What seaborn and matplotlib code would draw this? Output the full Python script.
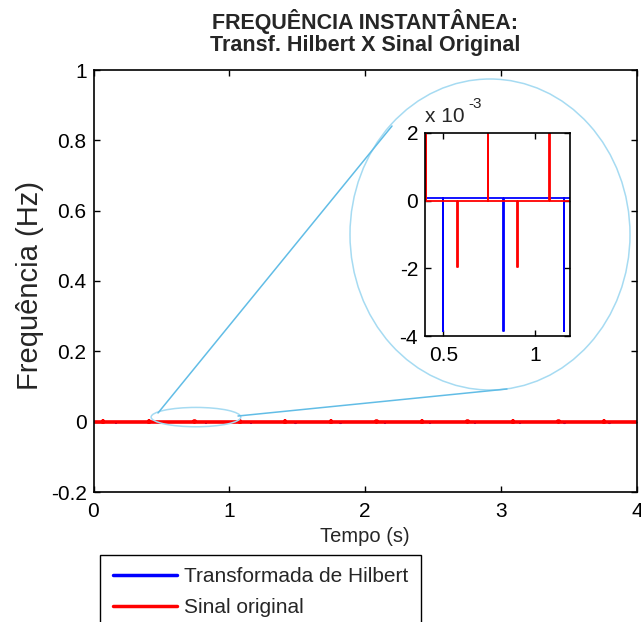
import numpy as np
import pandas as pd
import matplotlib
matplotlib.use("Agg")
import matplotlib.pyplot as plt
import seaborn as sns
from matplotlib.patches import Ellipse
from matplotlib.lines import Line2D
from matplotlib.ticker import FuncFormatter, FixedLocator

# ---------------- data ----------------
t_start, t_end = 0.0, 4.0

blue_label = "Transformada de Hilbert"
blue_base = 0.00007
blue_spike_t = [0.166, 0.496, 0.826, 1.156, 1.486, 1.816, 2.146, 2.476,
                2.806, 3.136, 3.466, 3.796]
blue_spike_v = [-0.00385, -0.00385, -0.00385, -0.00385, -0.00385, -0.00385,
                -0.00385, -0.00385, -0.00385, -0.00385, -0.00385, -0.00385]

red_label = "Sinal original"
red_base = 0.0
red_up_t = [0.07, 0.405, 0.742, 1.076, 1.41, 1.745, 2.08, 2.415, 2.75,
            3.085, 3.42, 3.755]
red_up_v = [0.0025, 0.0025, 0.0025, 0.0025, 0.0025, 0.0025, 0.0025, 0.0025,
            0.0025, 0.0025, 0.0025, 0.0025]
red_dn_t = [0.576, 0.903, 1.24, 1.57, 1.91, 2.245, 2.58, 2.915, 3.25,
            3.585, 3.91]
red_dn_v = [-0.00195, -0.00195, -0.00195, -0.00195, -0.00195, -0.00195,
            -0.00195, -0.00195, -0.00195, -0.00195, -0.00195]

main_xticks = [0, 1, 2, 3, 4]
main_yticks = [-0.2, 0, 0.2, 0.4, 0.6, 0.8, 1]
inset_xticks = [0.5, 1]
inset_yticks = [-0.004, -0.002, 0, 0.002]

title_lines = ["FREQUÊNCIA INSTANTÂNEA:", "Transf. Hilbert X Sinal Original"]
xlabel = "Tempo (s)"
ylabel = "Frequência (Hz)"


def spike_frame(base, ts, vs, w=0.003):
    xs, ys = [t_start], [base]
    for t, v in sorted(zip(ts, vs)):
        xs += [t, t, t + w, t + w]
        ys += [base, v, v, base]
    xs.append(t_end)
    ys.append(base)
    return pd.DataFrame({"t": xs, "f": ys})


blue_df = spike_frame(blue_base, blue_spike_t, blue_spike_v)
red_df = spike_frame(red_base, red_up_t + red_dn_t, red_up_v + red_dn_v)

# ---------------- style ----------------
sns.set_style("ticks")
plt.rcParams["font.family"] = ["Liberation Sans", "DejaVu Sans"]
plt.rcParams["axes.unicode_minus"] = False

W, H = 641, 622
fig = plt.figure(figsize=(W / 100, H / 100), dpi=100)


def fx(px):
    return px / W


def fy(py):
    return 1 - py / H


def style_axes(a, fs):
    for s in a.spines.values():
        s.set_color("black")
        s.set_linewidth(1.2)
    a.tick_params(direction="in", length=4, width=1, top=True, right=True,
                  labelsize=fs, colors="black")
    a.set_facecolor("white")


fmt = FuncFormatter(lambda v, p: f"{v:g}")

# ---------------- main axes ----------------
ax = fig.add_axes([fx(93.5), fy(492), fx(637) - fx(93.5), fy(70) - fy(492)])
sns.lineplot(data=blue_df, x="t", y="f", ax=ax, color="#0000ff", lw=1.5,
             estimator=None, sort=False, label=blue_label)
sns.lineplot(data=red_df, x="t", y="f", ax=ax, color="#ff0000", lw=2.6,
             estimator=None, sort=False, label=red_label)
handles, labels = ax.get_legend_handles_labels()
if ax.get_legend() is not None:
    ax.get_legend().remove()
ax.set_xlim(0, 4)
ax.set_ylim(-0.2, 1)
ax.xaxis.set_major_locator(FixedLocator(main_xticks))
ax.yaxis.set_major_locator(FixedLocator(main_yticks))
ax.xaxis.set_major_formatter(fmt)
ax.yaxis.set_major_formatter(fmt)
ax.set_xlabel("")
ax.set_ylabel("")
style_axes(ax, 15)
ax.tick_params(axis="x", pad=7.5)
ax.tick_params(axis="y", pad=5)

# small zoom ellipse in data coords
ax.add_patch(Ellipse((0.754, 0.013), 0.66, 0.055, fill=False,
                     edgecolor="#a6dbf2", lw=1.1, zorder=5))

# titles and labels
fig.text(fx(365), fy(21), title_lines[0], ha="center", va="center",
         fontsize=15.5, fontweight="bold")
fig.text(fx(365), fy(46), title_lines[1], ha="center", va="center",
         fontsize=15.5, fontweight="bold")
fig.text(fx(364.5), fy(537), xlabel, ha="center", va="center", fontsize=14.5)
fig.text(fx(30), fy(285), ylabel, ha="center", va="center", fontsize=21,
         rotation=90)

# ---------------- inset ----------------
ins = fig.add_axes([fx(425), fy(336), fx(570) - fx(425), fy(133) - fy(336)])
sns.lineplot(data=blue_df, x="t", y="f", ax=ins, color="#0000ff", lw=1.3,
             estimator=None, sort=False, legend=False)
sns.lineplot(data=red_df, x="t", y="f", ax=ins, color="#ff0000", lw=1.3,
             estimator=None, sort=False, legend=False)
ins.set_xlim(0.4, 1.19)
ins.set_ylim(-0.004, 0.002)
ins.xaxis.set_major_locator(FixedLocator(inset_xticks))
ins.yaxis.set_major_locator(FixedLocator(inset_yticks))
ins.xaxis.set_major_formatter(fmt)
ins.yaxis.set_major_formatter(FuncFormatter(lambda v, p: f"{v * 1000:g}"))
ins.set_xlabel("")
ins.set_ylabel("")
style_axes(ins, 15)
ins.tick_params(axis="x", pad=7.5)
ins.tick_params(axis="y", pad=5)
fig.text(fx(425), fy(117), "x 10", ha="left", va="center", fontsize=15)
fig.text(fx(468), fy(104), "-3", ha="left", va="center", fontsize=11)

# big ellipse and connectors (figure coords)
fig.add_artist(Ellipse((fx(490), fy(234.5)), fx(280), 311 / H,
                       transform=fig.transFigure, fill=False,
                       edgecolor="#a6dbf2", lw=1.1))
fig.add_artist(Line2D([fx(158), fx(392)], [fy(413), fy(126)],
                      transform=fig.transFigure, color="#62bde6", lw=1.1))
fig.add_artist(Line2D([fx(238), fx(507)], [fy(416), fy(389)],
                      transform=fig.transFigure, color="#62bde6", lw=1.1))

# ---------------- legend ----------------
leg = fig.legend(handles, labels, loc="upper left",
                 bbox_to_anchor=(fx(100), fy(555)), borderaxespad=0,
                 fontsize=15, frameon=True, fancybox=False, framealpha=1,
                 edgecolor="black", handlelength=3.1, handletextpad=0.35,
                 borderpad=0.6, labelspacing=0.55)
leg.get_frame().set_linewidth(1.0)
for lh in leg.get_lines():
    lh.set_linewidth(2.5)

fig.savefig("out.png", dpi=100)
